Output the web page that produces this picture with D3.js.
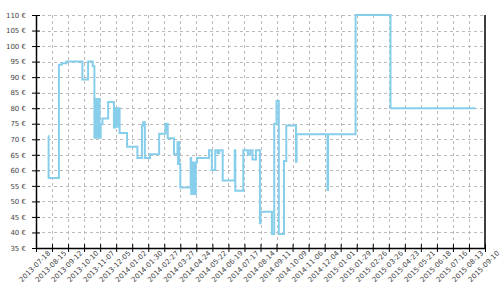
<!DOCTYPE html>
<html><head><meta charset="utf-8">
<script src="https://cdn.jsdelivr.net/npm/d3@7"></script>
<style>body{margin:0;background:#fff}svg{display:block}</style>
</head><body>
<script>
const dates = [
 "2013-08-08","2013-08-09","2013-08-27","2013-09-01","2013-09-09",
 "2013-10-07","2013-10-17","2013-10-25","2013-10-28","2013-10-29",
 "2013-10-31","2013-11-01","2013-11-02","2013-11-03","2013-11-04",
 "2013-11-05","2013-11-06","2013-11-08","2013-11-11","2013-11-21",
 "2013-12-01","2013-12-03","2013-12-06","2013-12-08","2013-12-11",
 "2013-12-24","2014-01-11","2014-01-19","2014-01-21","2014-01-24",
 "2014-02-02","2014-02-18","2014-03-01","2014-03-03","2014-03-04",
 "2014-03-05","2014-03-16","2014-03-22","2014-03-23","2014-03-24",
 "2014-03-25","2014-03-27","2014-04-14","2014-04-15","2014-04-17",
 "2014-04-18","2014-04-20","2014-04-21","2014-04-23","2014-04-25",
 "2014-05-16","2014-05-21","2014-05-27","2014-05-31","2014-06-03",
 "2014-06-09","2014-06-30","2014-07-01","2014-07-15","2014-07-23",
 "2014-07-27","2014-07-31","2014-08-06","2014-08-13","2014-08-14",
 "2014-09-03","2014-09-07","2014-09-11","2014-09-15","2014-09-24",
 "2014-09-28","2014-10-15","2014-10-16","2014-12-09","2014-12-10",
 "2015-01-27","2015-03-29","2015-08-24"];
const prices = [
 71,57.5,94,94.5,95,
 89.2,95,93.5,70.5,83,
 70.5,83,70.5,83,71,
 83,70.5,75,76.7,82,
 73.8,80,74,80,72,
 67.6,64,74.4,75.5,64,
 65.2,71.8,75,73,75,
 70.3,65.2,69,62,69,
 62,54.5,64,52.4,62.5,
 52.4,62.5,52.4,62.5,64,
 66.5,60.1,66.5,65.5,66.5,
 56.7,66.5,53.4,66.5,65,
 66.5,63.5,66.5,43,46.7,
 39.5,75,82.3,39.5,63,
 74.4,62.8,71.6,53.7,71.6,
 110,80,80];
const yTicks = [35,40,45,50,55,60,65,70,75,80,85,90,95,100,105,110];
const xStart = "2013-07-18", xEnd = "2015-09-10", tickStepDays = 28;
</script>
<script>
const W=500,H=300, L=36, R=485, T=15, B=248;
const parse=d3.utcParse("%Y-%m-%d"), fmt=d3.utcFormat("%Y-%m-%d");
const n=Math.min(dates.length,prices.length);
const data=d3.range(n).map(i=>({d:parse(dates[i]),v:prices[i]}));
const x=d3.scaleUtc().domain([parse(xStart),parse(xEnd)]).range([L,R]);
const y=d3.scaleLinear().domain([35,110]).range([B,T]);
const xTicks=d3.utcDay.every(1).range(parse(xStart),d3.utcDay.offset(parse(xEnd),1)).filter((d,i)=>i%tickStepDays===0);
const svg=d3.select("body").append("svg").attr("width",W).attr("height",H);
const grid=svg.append("g").attr("stroke","#bbb").attr("stroke-dasharray","3,3").attr("stroke-width",1);
grid.selectAll("line.h").data(yTicks.slice(1)).join("line").attr("x1",L).attr("x2",R)
  .attr("y1",d=>Math.round(y(d))+0.5).attr("y2",d=>Math.round(y(d))+0.5);
grid.selectAll("line.v").data(xTicks.slice(1,-1)).join("line").attr("y1",T).attr("y2",B)
  .attr("x1",d=>Math.round(x(d))+0.5).attr("x2",d=>Math.round(x(d))+0.5);
svg.append("path").datum(data).attr("fill","none").attr("stroke","#87CEEB").attr("stroke-width",2)
  .attr("d",d3.line().x(d=>x(d.d)).y(d=>y(d.v)).curve(d3.curveStepAfter));
const ya=svg.append("g").attr("transform",`translate(${L},0)`)
  .call(d3.axisLeft(y).tickValues(yTicks).tickFormat(d=>d+" €").tickSizeInner(4).tickSizeOuter(0).tickPadding(6));
ya.selectAll(".tick line").attr("x2",4).attr("x1",-4).attr("stroke","#000");
const xa=svg.append("g").attr("transform",`translate(0,${B})`)
  .call(d3.axisBottom(x).tickValues(xTicks).tickFormat(fmt).tickSizeInner(4).tickSizeOuter(0));
xa.selectAll(".tick line").attr("y1",-4).attr("y2",4).attr("stroke","#000");
xa.selectAll(".tick text").attr("text-anchor","middle").attr("dy",null).attr("y",null)
  .attr("transform","translate(0,20) rotate(-45)");
svg.selectAll(".domain").attr("stroke","#000").attr("stroke-width",1.5);
svg.selectAll(".tick text").attr("fill","#444").attr("font-family","DejaVu Sans").attr("font-size",7);
svg.append("line").attr("x1",R).attr("x2",R).attr("y1",T).attr("y2",B).attr("stroke","#000").attr("stroke-width",1.5);
</script>
</body></html>
